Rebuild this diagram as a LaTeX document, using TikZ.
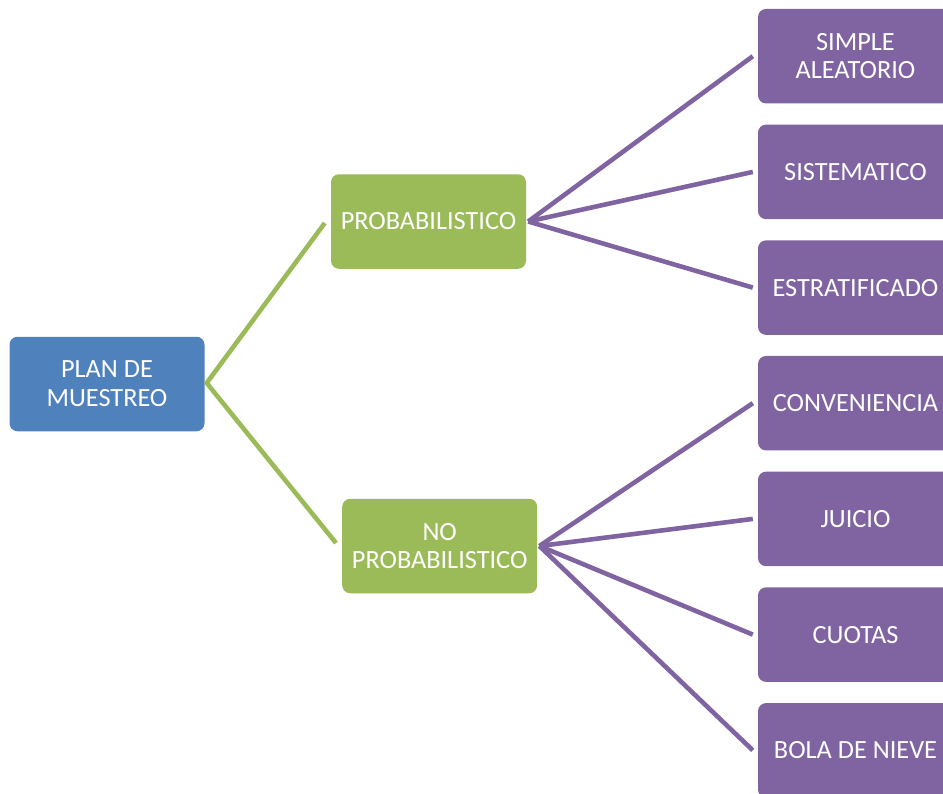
\documentclass[tikz,border=0pt]{standalone}
\usepackage{fontspec}
\setmainfont{Carlito}
\definecolor{cblue}{HTML}{4F81BD}
\definecolor{cgreen}{HTML}{9BBB59}
\definecolor{cpurple}{HTML}{8064A2}
\tikzset{
  box/.style={rounded corners=8pt, minimum width=195pt, minimum height=94.5pt, inner sep=0pt,
    align=center, text=white, font=\fontsize{26.3}{28.7}\selectfont},
  rootbox/.style={box, fill=cblue},
  midbox/.style={box, fill=cgreen},
  leafbox/.style={box, fill=cpurple},
  gline/.style={draw=cgreen, line width=4.6pt},
  pline/.style={draw=cpurple, line width=4.6pt}
}
\begin{document}
\begin{tikzpicture}[x=1pt,y=-1pt]
\useasboundingbox (0,0) rectangle (943,793);
\clip (0,0) rectangle (943,793);
\node[rootbox] (root) at (107,384) {PLAN DE\\MUESTREO};
\node[midbox] (prob) at (428.5,221.5) {PROBABILISTICO};
\node[midbox] (noprob) at (439.7,546) {NO\\PROBABILISTICO};
\node[leafbox] (l1) at (855.5,56.2) {SIMPLE\\ALEATORIO};
\node[leafbox] (l2) at (855.5,171.9) {SISTEMATICO};
\node[leafbox] (l3) at (855.5,287.6) {ESTRATIFICADO};
\node[leafbox] (l4) at (855.5,403.2) {CONVENIENCIA};
\node[leafbox] (l5) at (855.5,518.9) {JUICIO};
\node[leafbox] (l6) at (855.5,634.6) {CUOTAS};
\node[leafbox] (l7) at (855.5,750.3) {BOLA DE NIEVE};
\coordinate (rv) at ([xshift=2pt,yshift=1pt]root.east);
\coordinate (pv) at ([xshift=2pt]prob.east);
\coordinate (nv) at ([xshift=2pt]noprob.east);
\draw[gline] ([xshift=-6pt,yshift=-1.5pt]prob.west) -- (rv) -- ([xshift=-6pt,yshift=3pt]noprob.west);
\foreach \t in {l1,l2,l3}{\draw[pline] (pv) -- ([xshift=-5pt]\t.west);}
\foreach \t in {l4,l5,l6,l7}{\draw[pline] (nv) -- ([xshift=-5pt]\t.west);}
\end{tikzpicture}
\end{document}
